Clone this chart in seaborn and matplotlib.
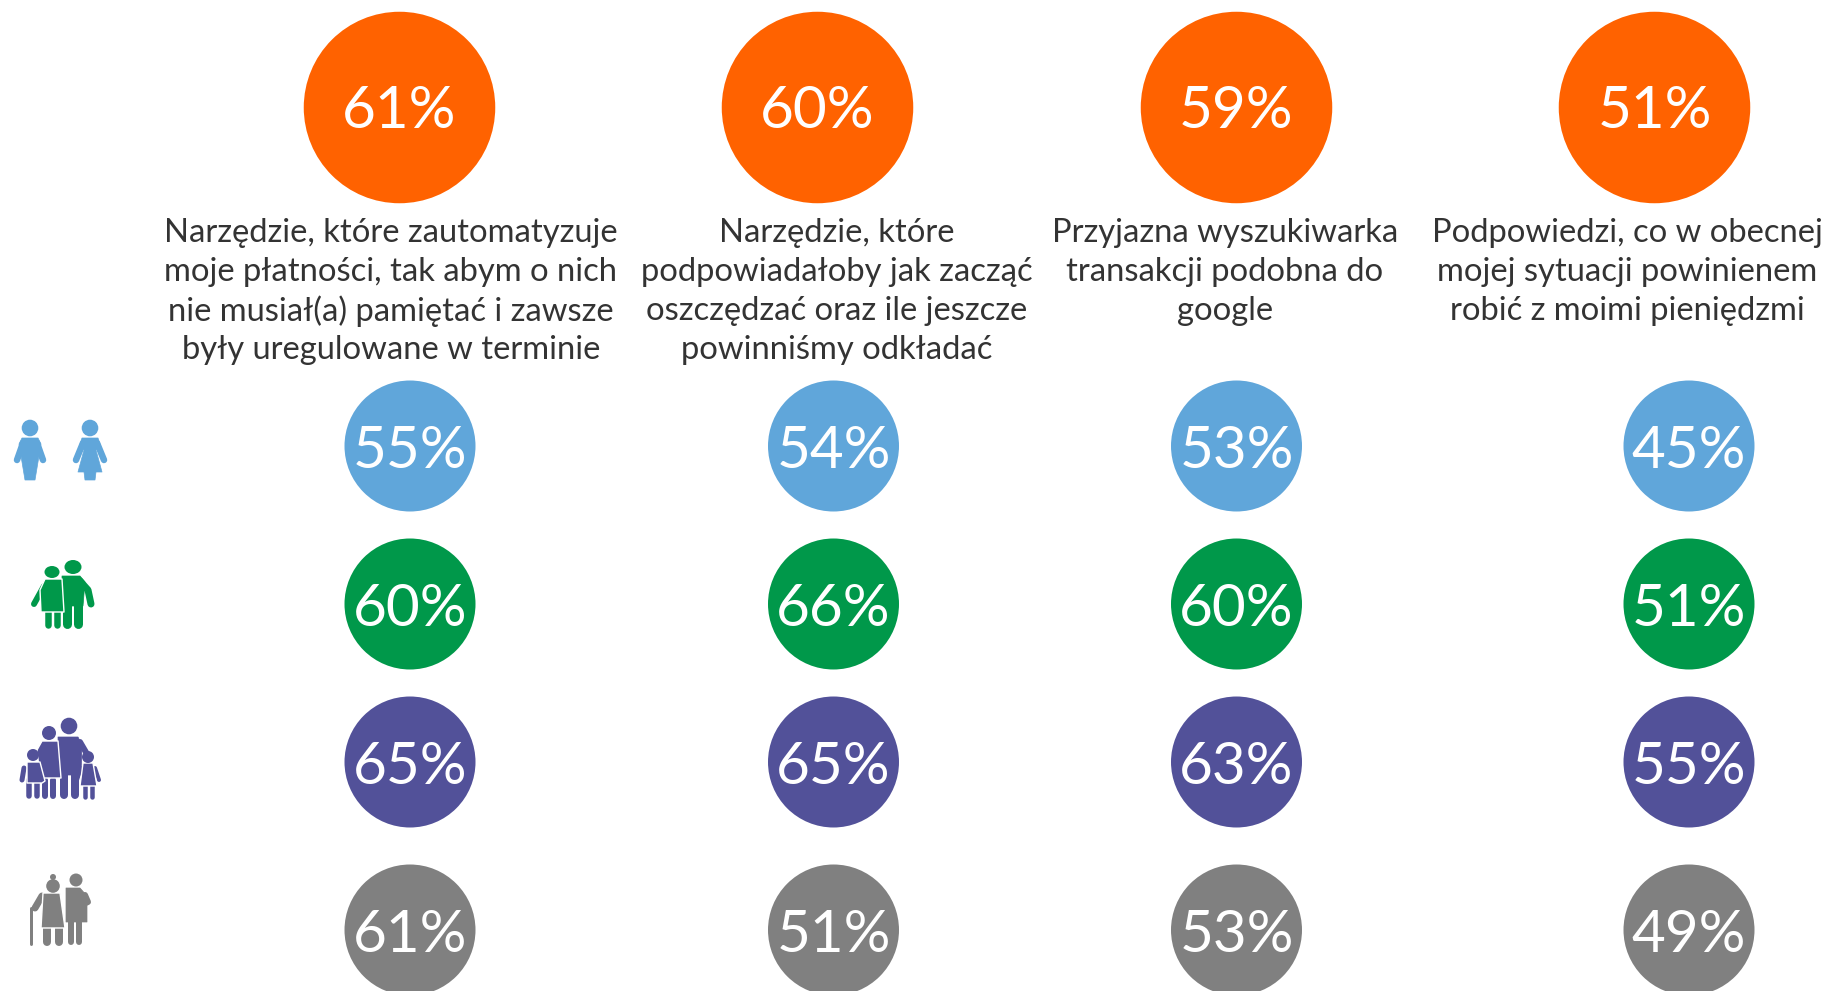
"""
Preference circles: four tools, overall and by life stage
"""
# ==============================================================================
import numpy as np
import pandas as pd
import matplotlib
matplotlib.use("Agg")
import matplotlib.pyplot as plt
from matplotlib.patches import Ellipse, Polygon
import seaborn as sns

# ==============================================================================
# ========== The data ==========
questions = [
    "Narzędzie, które zautomatyzuje\nmoje płatności, tak abym o nich\nnie musiał(a) pamiętać i zawsze\nbyły uregulowane w terminie",
    "Narzędzie, które\npodpowiadałoby jak zacząć\noszczędzać oraz ile jeszcze\npowinniśmy odkładać",
    "Przyjazna wyszukiwarka\ntransakcji podobna do\ngoogle",
    "Podpowiedzi, co w obecnej\nmojej sytuacji powinienem\nrobić z moimi pieniędzmi",
]
total = [61, 60, 59, 51]
groups = ["single", "couple", "family", "senior"]
single = [55, 54, 53, 45]
couple = [60, 66, 60, 51]
family = [65, 65, 63, 55]
senior = [61, 51, 53, 49]

# ========== Layout, in pixels of the figure ==========
top_x = [399, 817, 1236, 1654.5]
top_y = 107
row_x = [410, 833.5, 1236.5, 1689]
row_y = [446, 604, 762, 930]
label_x = [391, 837, 1225, 1627]
label_y = 233.5
line_gap = 38.7

ORANGE = "#FF6200"
BLUE = "#60A6DA"
GREEN = "#00984A"
PURPLE = "#525199"
GREY = "#808080"
TEXT = "#333333"

# ==============================================================================
sns.set_theme(style="white")
plt.rcParams["font.family"] = ["Lato", "DejaVu Sans"]

fig = plt.figure(figsize=(18.25, 9.91), dpi=100)
ax = fig.add_axes([0, 0, 1, 1])

top_df = pd.DataFrame({"x": top_x, "y": top_y, "value": total})
row_df = pd.DataFrame({
    "x": row_x * 4,
    "y": np.repeat(row_y, 4),
    "group": np.repeat(groups, 4),
    "value": single + couple + family + senior,
})

# scatter size is the area in points^2: diameter px * 0.72
sns.scatterplot(data=top_df, x="x", y="y", s=(191.5 * 0.72) ** 2, color=ORANGE,
                linewidth=0, legend=False, ax=ax)
sns.scatterplot(data=row_df, x="x", y="y", hue="group", hue_order=groups,
                palette=[BLUE, GREEN, PURPLE, GREY], s=(131 * 0.72) ** 2,
                linewidth=0, legend=False, ax=ax)

ax.set_xlim(0, 1825)
ax.set_ylim(991, 0)
ax.set_axis_off()

for _, row in pd.concat([top_df, row_df]).iterrows():
    ax.text(row["x"], row["y"], f"{row['value']}%", color="white", fontsize=42,
            ha="center", va="center_baseline")

for x, txt in zip(label_x, questions):
    for i, line in enumerate(txt.split("\n")):
        ax.text(x, label_y + i * line_gap, line, color=TEXT, fontsize=23.6,
                ha="center", va="center")


# ==============================================================================
# ========== Pictograms ==========
def limb(pts, width, color):
    xs, ys = zip(*pts)
    ax.plot(xs, ys, color=color, lw=width * 0.72, solid_capstyle="round",
            solid_joinstyle="round", zorder=3)


def body(pts, color, edge=False):
    ax.add_patch(Polygon(pts, closed=True, fc=color, ec="white" if edge else color,
                         lw=1 if edge else 0.5, joinstyle="round", zorder=4))


def head(x, y, r, color, ry=None):
    ax.add_patch(Ellipse((x, y), 2 * r, 2 * (ry or r), fc=color, ec="none", zorder=5))


# man and woman
head(30, 428, 8.3, BLUE)
limb([(23, 443), (17, 460)], 6.5, BLUE)
limb([(37, 443), (43, 460)], 6.5, BLUE)
body([(22, 438), (38, 438), (41, 444), (35, 480), (25, 480), (19, 444)], BLUE)
head(90, 428, 8.3, BLUE)
limb([(83, 443), (76, 460)], 6.5, BLUE)
limb([(97, 443), (104, 460)], 6.5, BLUE)
body([(82, 438), (98, 438), (100, 444), (96, 450), (102, 472), (96, 472), (95, 480),
      (85, 480), (84, 472), (78, 472), (84, 450), (80, 444)], BLUE)

# couple
head(73, 567, 8.5, GREEN, ry=7)
limb([(80, 581), (88, 590), (91, 604)], 7, GREEN)
limb([(67, 600), (67, 624)], 9, GREEN)
limb([(78, 600), (78, 624)], 9, GREEN)
body([(62, 576), (80, 576), (85, 582), (83, 606), (62, 606)], GREEN)
head(52, 572, 7.5, GREEN, ry=6)
limb([(44, 586), (34, 604)], 6, GREEN)
limb([(48, 610), (48, 625)], 6.5, GREEN)
limb([(57, 610), (57, 625)], 6.5, GREEN)
body([(45, 579), (62, 579), (64, 612), (41, 612), (40, 590)], GREEN, edge=True)

# family
head(69, 726, 8.3, PURPLE)
limb([(80, 742), (87, 754)], 6, PURPLE)
limb([(64, 770), (64, 795)], 8, PURPLE)
limb([(75, 770), (75, 795)], 8, PURPLE)
body([(58, 737), (78, 737), (82, 745), (81, 775), (59, 775)], PURPLE)
head(49, 733, 7, PURPLE)
limb([(45, 780), (45, 796)], 6, PURPLE)
limb([(53, 780), (53, 796)], 6, PURPLE)
body([(42, 741), (58, 741), (61, 778), (40, 778), (37, 750)], PURPLE, edge=True)
head(33, 755, 6, PURPLE)
limb([(24, 768), (22, 780)], 5, PURPLE)
limb([(29, 780), (29, 796)], 5.5, PURPLE)
limb([(37, 780), (37, 796)], 5.5, PURPLE)
body([(27, 762), (40, 762), (45, 781), (42, 783), (27, 783)], PURPLE, edge=True)
head(88, 757, 6, PURPLE)
limb([(81, 768), (77, 780)], 4, PURPLE)
limb([(95, 768), (99, 780)], 4, PURPLE)
limb([(85, 785), (85, 797)], 4.5, PURPLE)
limb([(92, 785), (92, 797)], 4.5, PURPLE)
body([(83, 763), (93, 763), (97, 786), (80, 786)], PURPLE, edge=True)

# seniors
head(76, 880, 6.5, GREY)
limb([(71, 920), (71, 942)], 6, GREY)
limb([(79, 920), (79, 942)], 6, GREY)
body([(66, 888), (80, 888), (87, 896), (87, 922), (66, 922)], GREY)
limb([(85, 895), (88, 902), (72, 909)], 6, GREY)
limb([(31, 908), (31, 944)], 3, GREY)
head(53, 877, 3, GREY)
head(53, 886, 6.8, GREY)
limb([(42, 896), (35, 908)], 7, GREY)
limb([(47, 925), (47, 942)], 8, GREY)
limb([(59, 925), (59, 942)], 8, GREY)
body([(43, 893), (60, 893), (65, 928), (41, 928)], GREY, edge=True)

# ==============================================================================
fig.savefig("out.png", dpi=100)
